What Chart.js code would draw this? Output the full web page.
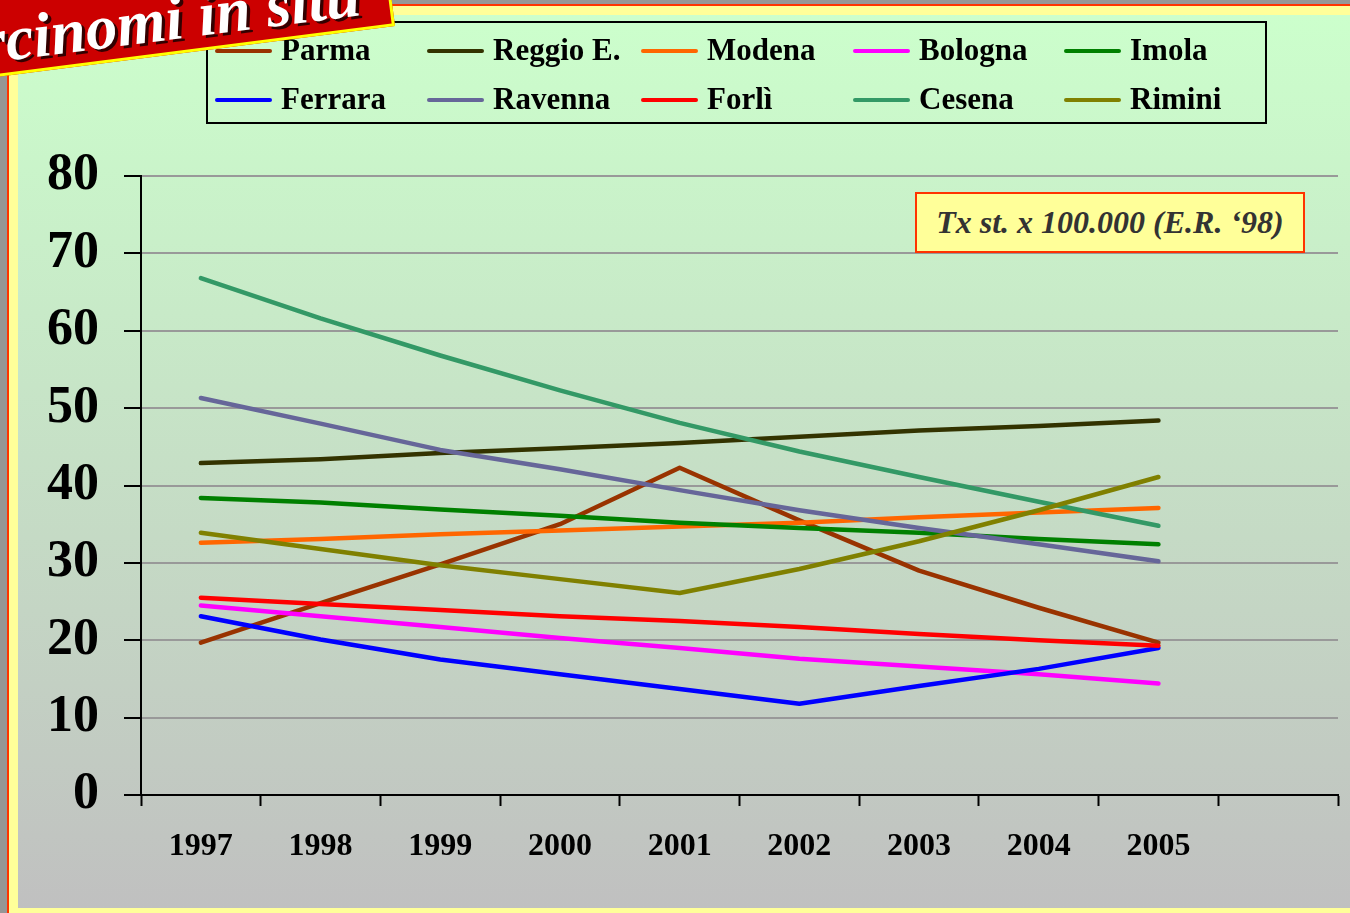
<!DOCTYPE html>
<html>
<head>
<meta charset="utf-8">
<script src="https://cdn.jsdelivr.net/npm/chart.js@4/dist/chart.umd.min.js"></script>
<style>
  html, body { margin: 0; padding: 0; }
  body { width: 1350px; height: 913px; overflow: hidden; position: relative; background: #969696; font-family: "Liberation Serif", "Times New Roman", serif; }
  #frame { position: absolute; left: 7px; top: 4px; right: 0; bottom: 0; background: #FFFF99; border-left: 2px solid #FF3300; border-top: 2px solid #FF3300; }
  #panel { position: absolute; left: 18px; top: 15px; right: 0; bottom: 5px; background: linear-gradient(#CCFFCC, #C0C0C0); }
  #chart { position: absolute; left: 0; top: 0; }
  #legend { position: absolute; left: 206px; top: 21px; width: 1057px; height: 99px; border: 2px solid #000; }
  .item { position: absolute; height: 34px; line-height: 34px; font-weight: bold; font-size: 31px; color: #000; white-space: nowrap; }
  .item i { display: inline-block; width: 57px; height: 4px; border-radius: 2px; vertical-align: middle; margin-right: 9px; position: relative; top: -2px; }
  #note { position: absolute; left: 915px; top: 192px; width: 386px; height: 57px; border: 2px solid #FF3300; background: #FFFF99; color: #333; font-weight: bold; font-style: italic; font-size: 32px; line-height: 57px; text-align: center; }
  #banner { position: absolute; left: -205px; top: -84px; width: 594px; height: 104px; background: #CC0000; border: 3px solid #FFFF00; transform-origin: 100% 100%; transform: rotate(-7.3deg); overflow: hidden; }
  #banner span { position: absolute; right: 28px; bottom: 1px; color: #fff; font-weight: bold; font-style: italic; font-size: 63px; line-height: 63px; text-shadow: 3px 3px 0 #330000; white-space: nowrap; }
</style>
</head>
<body>
<div id="frame"></div>
<div id="panel"></div>
<canvas id="chart" width="1350" height="913"></canvas>
<div id="legend"></div>
<div id="note">Tx st. x 100.000 (E.R. ‘98)</div>
<div id="banner"><span>Carcinomi in situ</span></div>
<script>
// categorie (l'ultima resta vuota come nel grafico originale)
const years = ["1997", "1998", "1999", "2000", "2001", "2002", "2003", "2004", "2005", ""];
const yTicks = [0, 10, 20, 30, 40, 50, 60, 70, 80];

// tassi standardizzati x 100.000
const parma   = [19.7, 24.8, 29.8, 35.0, 42.3, 35.5, 29.0, 24.2, 19.7];
const reggio  = [42.9, 43.4, 44.2, 44.8, 45.5, 46.3, 47.1, 47.7, 48.4];
const modena  = [32.6, 33.1, 33.7, 34.2, 34.7, 35.2, 35.9, 36.5, 37.1];
const bologna = [24.5, 23.1, 21.7, 20.3, 19.0, 17.6, 16.6, 15.6, 14.4];
const imola   = [38.4, 37.8, 36.9, 36.1, 35.2, 34.5, 33.9, 33.1, 32.4];
const ferrara = [23.1, 20.1, 17.5, 15.6, 13.7, 11.8, 14.1, 16.3, 19.0];
const ravenna = [51.3, 48.0, 44.6, 42.1, 39.4, 36.8, 34.5, 32.4, 30.2];
const forli   = [25.5, 24.7, 23.9, 23.1, 22.5, 21.7, 20.8, 20.0, 19.3];
const cesena  = [66.8, 61.6, 56.8, 52.3, 48.1, 44.4, 41.1, 37.9, 34.8];
const rimini  = [33.9, 31.8, 29.7, 27.9, 26.1, 29.2, 32.8, 36.8, 41.1];

const series = [
  { label: "Parma", data: parma, color: "#993300" },
  { label: "Reggio E.", data: reggio, color: "#333300" },
  { label: "Modena", data: modena, color: "#FF6600" },
  { label: "Bologna", data: bologna, color: "#FF00FF" },
  { label: "Imola", data: imola, color: "#008000" },
  { label: "Ferrara", data: ferrara, color: "#0000FF" },
  { label: "Ravenna", data: ravenna, color: "#666699" },
  { label: "Forlì", data: forli, color: "#FF0000" },
  { label: "Cesena", data: cesena, color: "#339966" },
  { label: "Rimini", data: rimini, color: "#808000" }
];

const serif = "'Liberation Serif', 'Times New Roman', serif";

new Chart(document.getElementById("chart"), {
  type: "line",
  data: {
    labels: years,
    datasets: series.map((s, i) => ({
      label: s.label,
      data: s.data,
      borderColor: s.color,
      backgroundColor: s.color,
      borderWidth: 4.5,
      borderCapStyle: "round",
      borderJoinStyle: "round",
      pointRadius: 0,
      tension: 0,
      order: series.length - i
    }))
  },
  options: {
    responsive: false,
    animation: false,
    layout: { padding: { top: 176, right: 12, left: 0, bottom: 0 } },
    plugins: {
      legend: { display: false },
      tooltip: { enabled: false }
    },
    scales: {
      x: {
        offset: true,
        afterFit: (scale) => { scale.height = 118; },
        grid: {
          offset: true,
          drawOnChartArea: false,
          drawTicks: true,
          tickLength: 11,
          tickWidth: 2,
          tickColor: "#000"
        },
        border: { color: "#000", width: 2 },
        ticks: {
          color: "#000",
          autoSkip: false,
          maxRotation: 0,
          padding: 22,
          font: { family: serif, size: 32, weight: "bold" }
        }
      },
      y: {
        min: 0,
        max: 80,
        afterFit: (scale) => { scale.width = 141; },
        afterBuildTicks: (scale) => { scale.ticks = yTicks.map(v => ({ value: v })); },
        grid: {
          color: "#999999",
          lineWidth: 2,
          tickColor: "#000",
          tickWidth: 2,
          tickLength: 17
        },
        border: { color: "#000", width: 2 },
        ticks: {
          color: "#000",
          padding: 25,
          font: { family: serif, size: 52, weight: "bold" }
        }
      }
    }
  }
});

// legenda a griglia (2 righe x 5 colonne)
const legend = document.getElementById("legend");
const colX = [7, 219, 433, 645, 856];
const rowY = [10, 59];
series.forEach((s, i) => {
  const el = document.createElement("div");
  el.className = "item";
  el.style.left = colX[i % 5] + "px";
  el.style.top = rowY[Math.floor(i / 5)] + "px";
  el.innerHTML = '<i style="background:' + s.color + '"></i>' + s.label;
  legend.appendChild(el);
});
</script>
</body>
</html>
